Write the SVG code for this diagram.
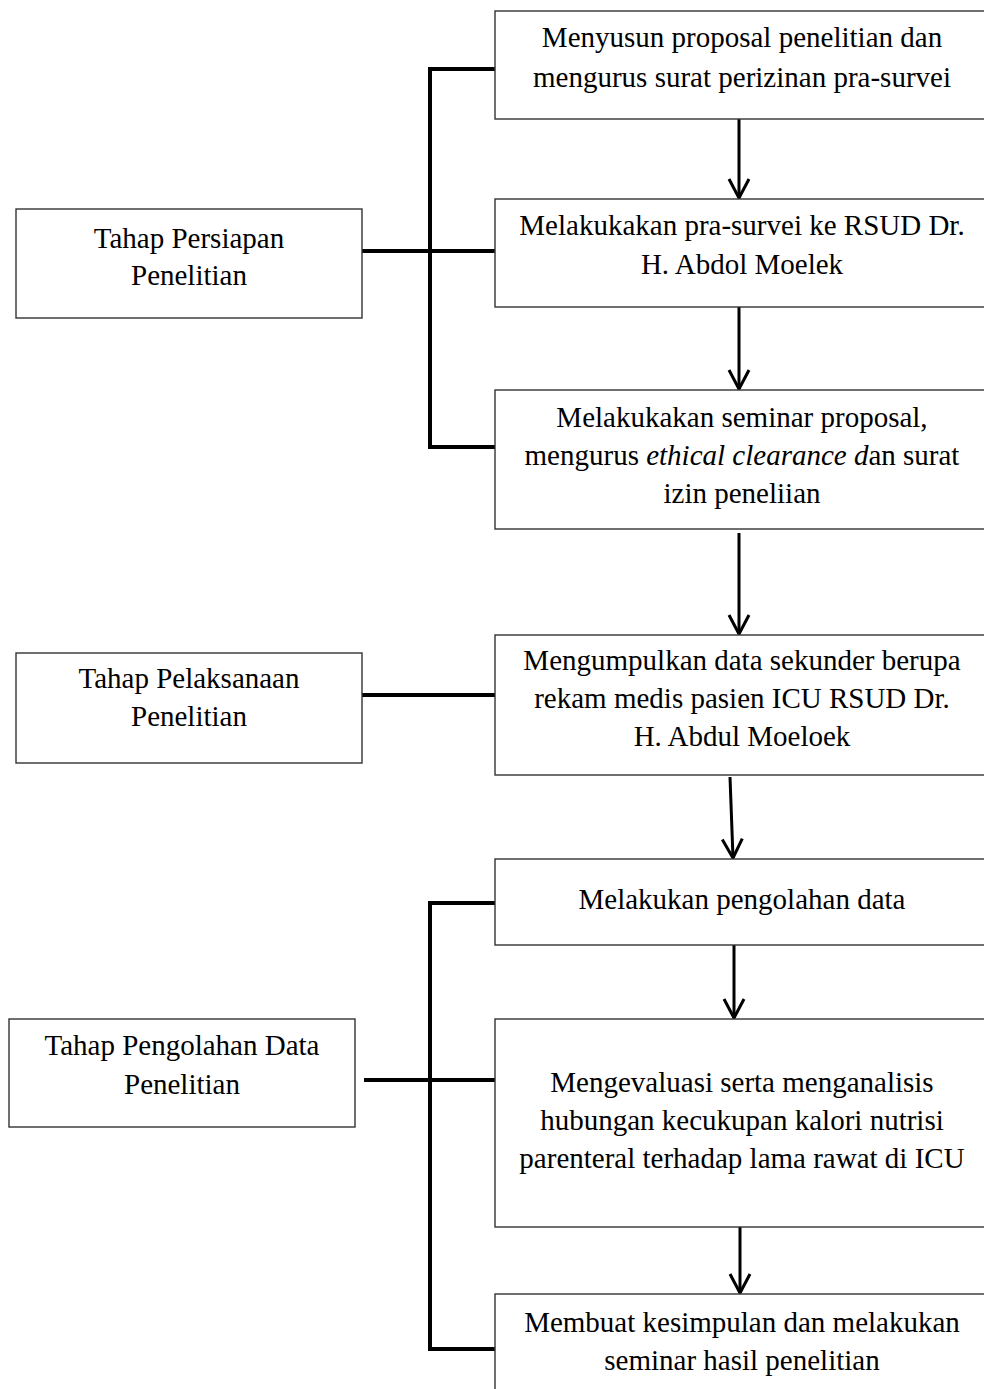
<svg xmlns="http://www.w3.org/2000/svg" width="984" height="1389" viewBox="0 0 984 1389">
<style>
.box{fill:#fff;stroke:#333;stroke-width:1.4}
.t{font-family:"Liberation Serif","Times New Roman",serif;font-size:29px;fill:#000;text-anchor:middle}
.br{fill:none;stroke:#000;stroke-width:4}
.ar{fill:none;stroke:#000;stroke-width:3;marker-end:url(#arr)}
</style>
<defs>
<marker id="arr" markerUnits="userSpaceOnUse" markerWidth="26" markerHeight="26" viewBox="0 0 26 26" refX="22" refY="13" orient="auto">
<path d="M3,3 L22,13 L3,23" fill="none" stroke="#000" stroke-width="3"/>
</marker>
</defs>
<rect width="984" height="1389" fill="#fff"/>
<g id="connectors">
<path class="br" d="M495,69 H430 V447 H495"/>
<path class="br" d="M362,251 H495"/>
<path class="br" d="M362,695 H495"/>
<path class="br" d="M495,903 H430 V1349 H495"/>
<path class="br" d="M364,1080 H495"/>
<path class="ar" d="M739,119 V198"/>
<path class="ar" d="M739,307 V389"/>
<path class="ar" d="M739,533 V634"/>
<path class="ar" d="M730,777 L733,858"/>
<path class="ar" d="M734,945 V1018"/>
<path class="ar" d="M740,1227 V1293"/>
</g>
<g id="n-persiapan">
<rect class="box" x="16" y="209" width="346" height="109"/>
<text class="t" x="189" y="248">Tahap Persiapan</text>
<text class="t" x="189" y="285">Penelitian</text>
</g>
<g id="n-pelaksanaan">
<rect class="box" x="16" y="653" width="346" height="110"/>
<text class="t" x="189" y="688">Tahap Pelaksanaan</text>
<text class="t" x="189" y="726">Penelitian</text>
</g>
<g id="n-pengolahan">
<rect class="box" x="9" y="1019" width="346" height="108"/>
<text class="t" x="182" y="1055">Tahap Pengolahan Data</text>
<text class="t" x="182" y="1094">Penelitian</text>
</g>
<g id="n1">
<rect class="box" x="495" y="11" width="500" height="108"/>
<text class="t" x="742" y="47">Menyusun proposal penelitian dan</text>
<text class="t" x="742" y="87">mengurus surat perizinan pra-survei</text>
</g>
<g id="n2">
<rect class="box" x="495" y="199" width="500" height="108"/>
<text class="t" x="742" y="235">Melakukakan pra-survei ke RSUD Dr.</text>
<text class="t" x="742" y="274">H. Abdol Moelek</text>
</g>
<g id="n3">
<rect class="box" x="495" y="390" width="500" height="139"/>
<text class="t" x="742" y="427">Melakukakan seminar proposal,</text>
<text class="t" x="742" y="465">mengurus <tspan font-style="italic">ethical clearance d</tspan>an surat</text>
<text class="t" x="742" y="503">izin peneliian</text>
</g>
<g id="n4">
<rect class="box" x="495" y="635" width="500" height="140"/>
<text class="t" x="742" y="670">Mengumpulkan data sekunder berupa</text>
<text class="t" x="742" y="708">rekam medis pasien ICU RSUD Dr.</text>
<text class="t" x="742" y="746">H. Abdul Moeloek</text>
</g>
<g id="n5">
<rect class="box" x="495" y="859" width="500" height="86"/>
<text class="t" x="742" y="909">Melakukan pengolahan data</text>
</g>
<g id="n6">
<rect class="box" x="495" y="1019" width="500" height="208"/>
<text class="t" x="742" y="1092">Mengevaluasi serta menganalisis</text>
<text class="t" x="742" y="1130">hubungan kecukupan kalori nutrisi</text>
<text class="t" x="742" y="1168">parenteral terhadap lama rawat di ICU</text>
</g>
<g id="n7">
<rect class="box" x="495" y="1294" width="500" height="120"/>
<text class="t" x="742" y="1332">Membuat kesimpulan dan melakukan</text>
<text class="t" x="742" y="1370">seminar hasil penelitian</text>
</g>
</svg>
